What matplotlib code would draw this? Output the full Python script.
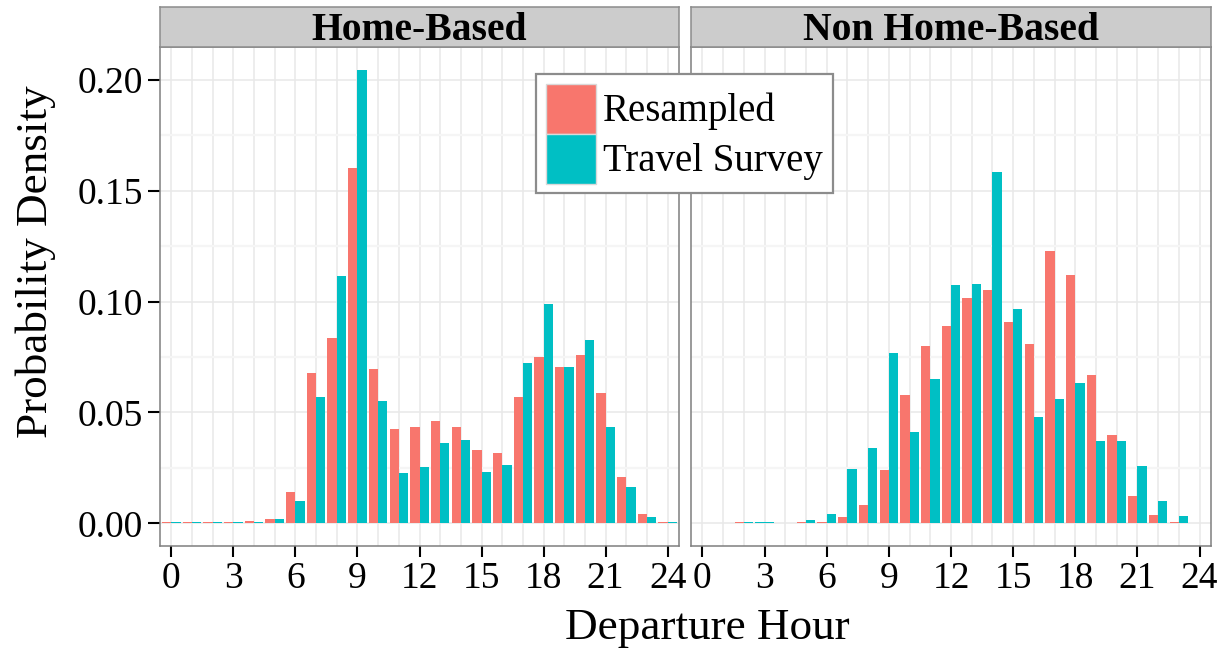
####### Import libraries
import numpy as np
import matplotlib
matplotlib.use('Agg')
from matplotlib import pyplot as plt
from matplotlib.patches import Patch
plt.close('all')

###### Data, nan = no bar for that hour
hours = np.arange(25)
nan = np.nan

hb_resampled = [0.0005, 0.0005, 0.0005, 0.0005, 0.0010, 0.0020, 0.0141, 0.0676, 0.0837, 0.1601,
                0.0694, 0.0424, 0.0433, 0.0460, 0.0433, 0.0330, 0.0316, 0.0568, 0.0748, 0.0703,
                0.0757, 0.0586, 0.0208, 0.0042, 0.0005]
hb_survey = [0.0005, 0.0005, 0.0005, 0.0005, 0.0007, 0.0020, 0.0100, 0.0568, 0.1116, 0.2046,
             0.0554, 0.0226, 0.0253, 0.0361, 0.0375, 0.0231, 0.0262, 0.0725, 0.0990, 0.0703,
             0.0828, 0.0433, 0.0163, 0.0028, 0.0005]

nhb_resampled = [nan, nan, 0.0005, nan, nan, 0.0005, 0.0007, 0.0028, 0.0082, 0.0240,
                 0.0577, 0.0801, 0.0891, 0.1017, 0.1053, 0.0909, 0.0810, 0.1228, 0.1121, 0.0671,
                 0.0397, 0.0123, 0.0037, 0.0007, nan]
nhb_survey = [nan, nan, 0.0007, 0.0007, nan, 0.0015, 0.0042, 0.0244, 0.0339, 0.0770,
              0.0410, 0.0649, 0.1076, 0.1080, 0.1584, 0.0968, 0.0478, 0.0559, 0.0635, 0.0370,
              0.0370, 0.0258, 0.0100, 0.0033, nan]

panel_titles = ['Home-Based', 'Non Home-Based']
series_names = ['Resampled', 'Travel Survey']
x_ticks = np.arange(0, 25, 3)
y_ticks = [0.00, 0.05, 0.10, 0.15, 0.20]

###### Style
RED = '#F8766D'
TEAL = '#00BFC4'
FONT = 'Liberation Serif'
plt.rcParams['font.family'] = FONT

W, H = 1222, 652
fig = plt.figure(figsize=(W / 100, H / 100), dpi=100)

def px_axes(x0, y0, x1, y1):
    # axes from pixel box (top-left origin)
    return fig.add_axes([x0 / W, 1 - y1 / H, (x1 - x0) / W, (y1 - y0) / H])

def dodge_bars(ax, a, b):
    a = np.array(a, float)
    b = np.array(b, float)
    both = ~np.isnan(a) & ~np.isnan(b)
    ma = ~np.isnan(a)
    mb = ~np.isnan(b)
    xa = np.where(both, hours - 0.225, hours)
    xb = np.where(both, hours + 0.225, hours)
    wa = np.where(both, 0.45, 0.9)
    ax.bar(xa[ma], a[ma], width=wa[ma], color=RED, linewidth=0, zorder=3)
    ax.bar(xb[mb], b[mb], width=wa[mb], color=TEAL, linewidth=0, zorder=3)

panel_x = [(160, 679), (691, 1211)]
panel_top, panel_bottom = 47, 546
strip_top = 7

data = [(hb_resampled, hb_survey), (nhb_resampled, nhb_survey)]

for i, ((x0, x1), (a, b), title) in enumerate(zip(panel_x, data, panel_titles)):
    ax = px_axes(x0, panel_top, x1, panel_bottom)
    dodge_bars(ax, a, b)
    ax.set_xlim(-0.55, 24.55)
    ax.set_ylim(-0.0102, 0.2148)

    # grid lines
    for h in hours:
        ax.axvline(h, color='#E8E8E8', lw=1.1, zorder=1)
    for v in np.arange(0.025, 0.21, 0.05):
        ax.axhline(v, color='#F5F5F5', lw=1.6, zorder=1)
    for v in y_ticks:
        ax.axhline(v, color='#E8E8E8', lw=1.1, zorder=1)

    ax.set_xticks(x_ticks)
    ax.set_xticklabels([str(t) for t in x_ticks])
    ax.set_yticks(y_ticks)
    if i == 0:
        ax.set_yticklabels(['%.2f' % v for v in y_ticks])
        ax.tick_params(axis='y', length=8.5, width=1.5, color='black', labelsize=27, pad=3.5)
    else:
        ax.tick_params(axis='y', left=False, labelleft=False)
    ax.tick_params(axis='x', length=8, width=1.5, color='black', labelsize=27, pad=3)
    for s in ax.spines.values():
        s.set_color('#7F7F7F')
        s.set_linewidth(1.1)
        s.set_zorder(4)

    # facet strip
    st = px_axes(x0, strip_top, x1, panel_top)
    st.set_facecolor('#CCCCCC')
    st.set_xticks([])
    st.set_yticks([])
    for s in st.spines.values():
        s.set_color('#8C8C8C')
        s.set_linewidth(1.1)
    st.text(0.5, 0.42, title, transform=st.transAxes, ha='center', va='center',
            fontsize=28.5, fontweight='bold', family=FONT)

###### Axis titles
fig.text(36 / W, 1 - 262 / H, 'Probability Density', rotation=90, ha='center', va='center',
         fontsize=32.5)
fig.text(707 / W, 1 - 628 / H, 'Departure Hour', ha='center', va='center', fontsize=32.5)

###### Legend
handles = [Patch(facecolor=RED, edgecolor='#D9D9D9', linewidth=1.0, label=series_names[0]),
           Patch(facecolor=TEAL, edgecolor='#D9D9D9', linewidth=1.0, label=series_names[1])]
leg = fig.legend(handles=handles, loc='upper left', bbox_to_anchor=(536 / W, 1 - 74 / H),
                 fontsize=28, frameon=True, fancybox=False, framealpha=1,
                 handlelength=1.3, handleheight=1.6, handletextpad=0.18,
                 labelspacing=0.0, borderpad=0.25, borderaxespad=0)
leg.get_frame().set_edgecolor('#8C8C8C')
leg.get_frame().set_linewidth(1.6)

fig.savefig('out.png', dpi=100)
